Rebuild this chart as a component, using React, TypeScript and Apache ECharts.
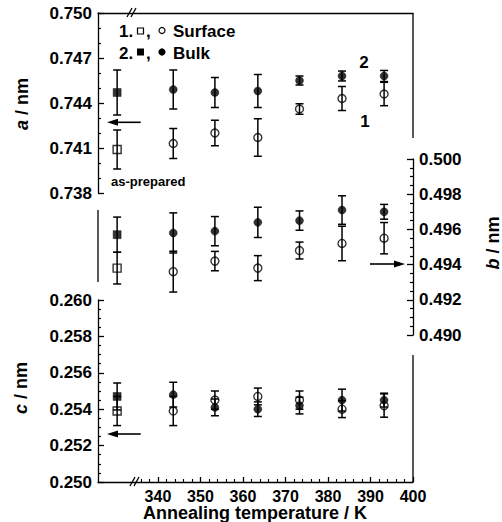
import React, { useEffect, useRef } from "react";
import * as echarts from "echarts";

// ---- data ----
const temps = [343.6, 353.4, 363.5, 373.3, 383.3, 393.2];
const prepTemp = 330.4;

const aSurface = [0.7413, 0.742, 0.7417, 0.7436, 0.7443, 0.7446];
const aSurfaceErr = [0.001, 0.00085, 0.00125, 0.00035, 0.0008, 0.00078];
const aBulk = [0.7449, 0.7447, 0.7448, 0.7455, 0.7458, 0.7458];
const aBulkErr = [0.0013, 0.001, 0.0011, 0.0003, 0.00033, 0.00037];
const aPrep = { surface: 0.7409, surfaceErr: 0.0013, bulk: 0.7447, bulkErr: 0.0015 };

const bSurface = [0.4936, 0.4942, 0.4938, 0.4948, 0.4952, 0.4955];
const bSurfaceErr = [0.00116, 0.00055, 0.00071, 0.00048, 0.00098, 0.00089];
const bBulk = [0.4958, 0.4959, 0.4964, 0.4965, 0.4971, 0.497];
const bBulkErr = [0.00114, 0.00083, 0.00086, 0.00055, 0.00081, 0.00042];
const bPrep = { surface: 0.4938, surfaceErr: 0.0009, bulk: 0.4957, bulkErr: 0.001 };

const cSurface = [0.2539, 0.2545, 0.2547, 0.2545, 0.254, 0.2542];
const cSurfaceErr = [0.0008, 0.0005, 0.00046, 0.0005, 0.00046, 0.00064];
const cBulk = [0.2548, 0.2541, 0.254, 0.2542, 0.2545, 0.2545];
const cBulkErr = [0.00068, 0.00046, 0.0004, 0.00046, 0.0006, 0.00038];
const cPrep = { surface: 0.2539, surfaceErr: 0.0008, bulk: 0.2547, bulkErr: 0.00074 };

const xMajor = [340, 350, 360, 370, 380, 390, 400];
const xMinor = [336, 338, 342, 344, 346, 348, 352, 354, 356, 358, 362, 364, 366, 368, 372, 374, 376, 378, 382, 384, 386, 388, 392, 394, 396, 398];
const aMajor = [0.738, 0.741, 0.744, 0.747, 0.75];
const aMinor = [0.739, 0.74, 0.742, 0.743, 0.745, 0.746, 0.748, 0.749];
const bMajor = [0.49, 0.492, 0.494, 0.496, 0.498, 0.5];
const bMinor = [0.4905, 0.491, 0.4915, 0.4925, 0.493, 0.4935, 0.4945, 0.495, 0.4955, 0.4965, 0.497, 0.4975, 0.4985, 0.499, 0.4995];
const cMajor = [0.25, 0.252, 0.254, 0.256, 0.258, 0.26];
const cMinor = [0.2505, 0.251, 0.2515, 0.2525, 0.253, 0.2535, 0.2545, 0.255, 0.2555, 0.2565, 0.257, 0.2575, 0.2585, 0.259, 0.2595];

const X_MIN = 325.9;
const X_MAX = 400;

const FONT = "Liberation Sans, Arial, sans-serif";
const BLACK = "#000";

function yAxisPair(gridIndex: number, min: number, max: number, major: number[], minor: number[], position: "left" | "right") {
  return [
    {
      type: "value",
      gridIndex,
      position,
      min,
      max,
      axisLine: { show: true, lineStyle: { color: BLACK, width: 1.3 } },
      axisTick: { show: true, inside: true, length: 6, customValues: major, lineStyle: { color: BLACK, width: 1.3 } },
      axisLabel: {
        show: true,
        customValues: major,
        margin: 6,
        color: BLACK,
        fontFamily: FONT,
        fontWeight: "bold",
        fontSize: 17,
        formatter: (v: number) => v.toFixed(3),
      },
      splitLine: { show: false },
    },
    {
      type: "value",
      gridIndex,
      position,
      min,
      max,
      axisLine: { show: false },
      axisTick: { show: true, inside: true, length: 3, customValues: minor, lineStyle: { color: BLACK, width: 1.2 } },
      axisLabel: { show: false },
      splitLine: { show: false },
    },
  ];
}

function errorSeries(xAxisIndex: number, yAxisIndex: number, xs: number[], ys: number[], errs: number[]) {
  return {
    type: "custom",
    xAxisIndex,
    yAxisIndex,
    z: 2,
    data: xs.map((x, i) => [x, ys[i] - errs[i], ys[i] + errs[i]]),
    encode: { x: 0, y: [1, 2] },
    renderItem: (params: any, api: any) => {
      const x = api.value(0);
      const lo = api.coord([x, api.value(1)]);
      const hi = api.coord([x, api.value(2)]);
      const w = 4;
      const style = { stroke: BLACK, lineWidth: 1.5 };
      return {
        type: "group",
        children: [
          { type: "line", shape: { x1: hi[0], y1: hi[1], x2: lo[0], y2: lo[1] }, style },
          { type: "line", shape: { x1: hi[0] - w, y1: hi[1], x2: hi[0] + w, y2: hi[1] }, style },
          { type: "line", shape: { x1: lo[0] - w, y1: lo[1], x2: lo[0] + w, y2: lo[1] }, style },
        ],
      };
    },
  };
}

function markerSeries(xAxisIndex: number, yAxisIndex: number, xs: number[], ys: number[], symbol: string, filled: boolean) {
  return {
    type: "scatter",
    xAxisIndex,
    yAxisIndex,
    z: 3,
    symbol,
    symbolSize: 8,
    data: xs.map((x, i) => [x, ys[i]]),
    itemStyle: filled
      ? { color: BLACK, borderColor: BLACK, borderWidth: 0.5 }
      : { color: "transparent", borderColor: BLACK, borderWidth: 1.4 },
    emphasis: { disabled: true },
  };
}

function panelSeries(xIdx: number, yIdx: number, surf: number[], surfErr: number[], bulk: number[], bulkErr: number[], prep: any) {
  return [
    errorSeries(xIdx, yIdx, temps, surf, surfErr),
    errorSeries(xIdx, yIdx, temps, bulk, bulkErr),
    errorSeries(xIdx, yIdx, [prepTemp], [prep.surface], [prep.surfaceErr]),
    errorSeries(xIdx, yIdx, [prepTemp], [prep.bulk], [prep.bulkErr]),
    markerSeries(xIdx, yIdx, temps, bulk, "circle", true),
    markerSeries(xIdx, yIdx, temps, surf, "circle", false),
    markerSeries(xIdx, yIdx, [prepTemp], [prep.bulk], "rect", true),
    markerSeries(xIdx, yIdx, [prepTemp], [prep.surface], "rect", false),
  ];
}

const lineStyle = { stroke: BLACK, lineWidth: 1.3 };
const textFont = (size: number) => `bold ${size}px ${FONT}`;

function txt(x: number, y: number, text: string, size = 17, align = "left", extra: any = {}) {
  return {
    type: "text",
    x,
    y,
    silent: true,
    style: { text, font: textFont(size), fill: BLACK, textAlign: align, textVerticalAlign: "middle", ...extra },
  };
}

function arrow(x1: number, x2: number, y: number) {
  const dir = x2 > x1 ? 1 : -1;
  const base = x2 - dir * 11;
  return [
    { type: "line", silent: true, shape: { x1, y1: y, x2: base, y2: y }, style: { stroke: BLACK, lineWidth: 1.6 } },
    { type: "polygon", silent: true, shape: { points: [[x2, y], [base, y - 3.5], [base, y + 3.5]] }, style: { fill: BLACK } },
  ];
}

function rotTitle(x: number, y: number, letter: string) {
  return {
    type: "text",
    x,
    y,
    rotation: Math.PI / 2,
    silent: true,
    style: {
      text: `{i|${letter}} / nm`,
      font: textFont(18),
      fill: BLACK,
      textAlign: "center",
      textVerticalAlign: "middle",
      rich: { i: { fontStyle: "italic", fontWeight: "bold", fontSize: 18, fontFamily: FONT, fill: BLACK } },
    },
  };
}

export default function App() {
  const ref = useRef<HTMLDivElement>(null);
  useEffect(() => {
    document.body.style.margin = "0";
    if (!ref.current) return;
    const chart = echarts.init(ref.current, null, { renderer: "svg" });

    const xBase = { type: "value", min: X_MIN, max: X_MAX, splitLine: { show: false } };

    const option: any = {
      animation: false,
      backgroundColor: "#fff",
      grid: [
        { left: 98, top: 13, width: 315, height: 180 },
        { left: 98, top: 159, width: 315, height: 176 },
        { left: 98, top: 300, width: 315, height: 182 },
      ],
      xAxis: [
        { ...xBase, gridIndex: 0, position: "top", axisLine: { show: true, lineStyle: { color: BLACK, width: 1.3 } }, axisTick: { show: false }, axisLabel: { show: false } },
        { ...xBase, gridIndex: 1, show: false },
        {
          ...xBase,
          gridIndex: 2,
          position: "bottom",
          axisLine: { show: true, lineStyle: { color: BLACK, width: 1.3 } },
          axisTick: { show: true, inside: true, length: 5, customValues: xMajor, lineStyle: { color: BLACK, width: 1.3 } },
          axisLabel: { show: true, customValues: xMajor, margin: 6, color: BLACK, fontFamily: FONT, fontWeight: "bold", fontSize: 16, lineHeight: 16 },
        },
        {
          ...xBase,
          gridIndex: 2,
          position: "bottom",
          axisLine: { show: false },
          axisTick: { show: true, inside: true, length: 3, customValues: xMinor, lineStyle: { color: BLACK, width: 1.1 } },
          axisLabel: { show: false },
        },
      ],
      yAxis: [
        ...yAxisPair(0, 0.738, 0.75, aMajor, aMinor, "left"),
        ...yAxisPair(1, 0.49, 0.5, bMajor, bMinor, "right"),
        ...yAxisPair(2, 0.25, 0.26, cMajor, cMinor, "left"),
      ],
      series: [
        ...panelSeries(0, 0, aSurface, aSurfaceErr, aBulk, aBulkErr, aPrep),
        ...panelSeries(1, 2, bSurface, bSurfaceErr, bBulk, bBulkErr, bPrep),
        ...panelSeries(2, 4, cSurface, cSurfaceErr, cBulk, cBulkErr, cPrep),
      ],
      graphic: [
        { type: "line", silent: true, shape: { x1: 413, y1: 13, x2: 413, y2: 138 }, style: lineStyle },
        { type: "line", silent: true, shape: { x1: 98, y1: 210, x2: 98, y2: 282 }, style: lineStyle },
        { type: "line", silent: true, shape: { x1: 413, y1: 355, x2: 413, y2: 482 }, style: lineStyle },
        { type: "line", silent: true, shape: { x1: 127, y1: 17, x2: 132, y2: 8 }, style: lineStyle },
        { type: "line", silent: true, shape: { x1: 131, y1: 17, x2: 136, y2: 8 }, style: lineStyle },
        { type: "line", silent: true, shape: { x1: 130, y1: 486, x2: 135, y2: 477 }, style: lineStyle },
        { type: "line", silent: true, shape: { x1: 134, y1: 486, x2: 139, y2: 477 }, style: lineStyle },
        txt(119, 31, "1."),
        { type: "rect", silent: true, shape: { x: 137.5, y: 28, width: 6, height: 6 }, style: { fill: "#fff", stroke: BLACK, lineWidth: 1.2 } },
        txt(146, 31, ","),
        { type: "circle", silent: true, shape: { cx: 162, cy: 30.5, r: 3 }, style: { fill: "#fff", stroke: BLACK, lineWidth: 1.2 } },
        txt(173, 31, "Surface"),
        txt(119, 53, "2."),
        { type: "rect", silent: true, shape: { x: 137, y: 48.5, width: 7, height: 7 }, style: { fill: BLACK } },
        txt(146, 53, ","),
        { type: "circle", silent: true, shape: { cx: 162, cy: 52, r: 3.6 }, style: { fill: BLACK } },
        txt(173, 53, "Bulk"),
        txt(364, 62, "2", 17, "center"),
        txt(365, 121, "1", 17, "center"),
        txt(111, 181, "as-prepared", 13),
        ...arrow(140.7, 107, 122.3),
        ...arrow(370, 405, 264),
        ...arrow(140.7, 107, 434),
        rotTitle(22, 104, "a"),
        rotTitle(493, 243, "b"),
        rotTitle(21, 388, "c"),
        txt(255, 513, "Annealing temperature / K", 18, "center"),
      ],
    };
    chart.setOption(option);
    return () => chart.dispose();
  }, []);
  return <div ref={ref} style={{ width: 502, height: 522 }} />;
}
